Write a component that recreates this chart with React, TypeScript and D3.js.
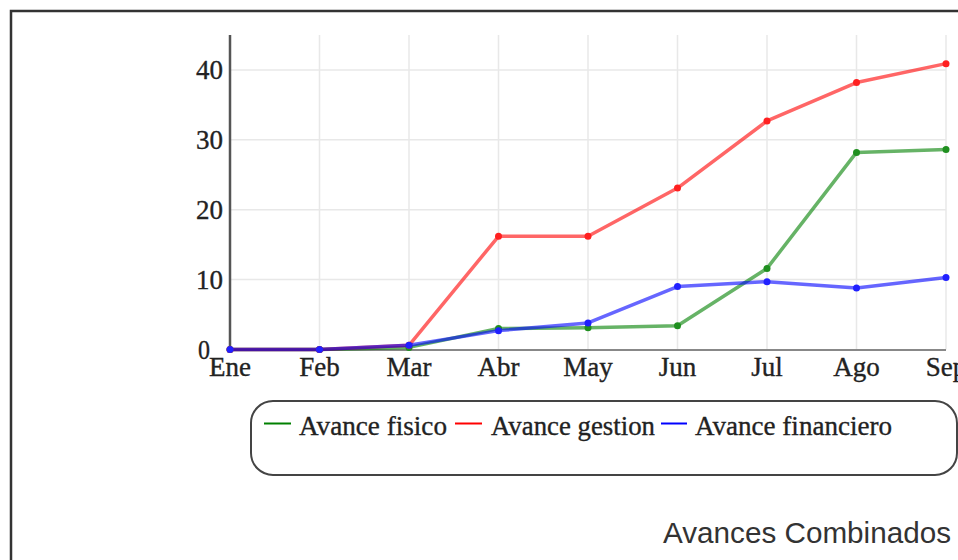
import React from "react";
import * as d3 from "d3";

const months = ["Ene", "Feb", "Mar", "Abr", "May", "Jun", "Jul", "Ago", "Sep"];
const avanceFisico = [0, 0, 0.3, 3.0, 3.1, 3.4, 11.6, 28.2, 28.6];
const avanceGestion = [0, 0, 0.6, 16.2, 16.2, 23.1, 32.7, 38.2, 40.9];
const avanceFinanciero = [0, 0, 0.6, 2.7, 3.8, 9.0, 9.7, 8.8, 10.3];
const yTicks = [0, 10, 20, 30, 40];
const seriesNames = ["Avance fisico", "Avance gestion", "Avance financiero"];
const chartTitle = "Avances Combinados";

const W = 958;
const H = 560;
const left = 230;
const right = 946;
const top = 35;
const bottom = 349.5;

const serif = "'Liberation Serif', 'Times New Roman', serif";
const sans = "'Liberation Sans', Arial, sans-serif";

export default function App() {
  const x = d3.scalePoint<string>().domain(months).range([left, right]);
  const y = d3.scaleLinear().domain([0, 45]).range([bottom, top]);

  const series = [
    { name: seriesNames[0], values: avanceFisico, line: "rgba(0,128,0,0.6)", dot: "#1f8f1f", legend: "#008000" },
    { name: seriesNames[1], values: avanceGestion, line: "rgba(255,0,0,0.6)", dot: "#ff2020", legend: "#ff0000" },
    { name: seriesNames[2], values: avanceFinanciero, line: "rgba(0,0,255,0.6)", dot: "#2020ff", legend: "#0000ff" },
  ];

  const lineGen = d3
    .line<number>()
    .x((_, i) => x(months[i]) as number)
    .y((d) => y(d));

  const legendItems = [
    { lx1: 264, lx2: 291, tx: 299, tw: 148 },
    { lx1: 455, lx2: 482, tx: 491, tw: 164 },
    { lx1: 661, lx2: 687, tx: 695, tw: 197 },
  ];

  const textStyle = { stroke: "#222", strokeWidth: 0.35 } as React.CSSProperties;

  return (
    <svg width={W} height={H} style={{ position: "absolute", left: 0, top: 0, display: "block" }}>
      <rect x={0} y={0} width={W} height={H} fill="#fff" />
      <rect x={11} y={11} width={W + 20} height={H + 20} fill="#fff" stroke="#333" strokeWidth={2.5} />

      {/* grid */}
      {months.map((m) => (
        <line key={"gx" + m} x1={x(m)} x2={x(m)} y1={top} y2={bottom} stroke="#e8e8e8" strokeWidth={1.5} />
      ))}
      {yTicks.filter((t) => t > 0).map((t) => (
        <line key={"gy" + t} x1={left} x2={right} y1={y(t)} y2={y(t)} stroke="#e8e8e8" strokeWidth={1.5} />
      ))}

      {/* axes */}
      <line x1={left} x2={right} y1={bottom + 0.5} y2={bottom + 0.5} stroke="#888" strokeWidth={2} />
      <line x1={left} x2={left} y1={top} y2={bottom + 1} stroke="#555" strokeWidth={2.5} />

      {/* y tick labels */}
      {yTicks.map((t) => (
        <text
          key={"yt" + t}
          x={t === 0 ? 198 : 196}
          y={y(t) + 9.5}
          fontFamily={serif}
          fontSize={27}
          fill="#222"
          style={textStyle}
          textLength={t === 0 ? 12 : 27}
          lengthAdjust="spacingAndGlyphs"
        >
          {t}
        </text>
      ))}

      {/* x tick labels */}
      {months.map((m) => (
        <text key={"xt" + m} x={x(m)} y={bottom + 26.5} textAnchor="middle" fontFamily={serif} fontSize={27} fill="#222" style={textStyle}>
          {m}
        </text>
      ))}

      {/* lines */}
      {series.map((s) => (
        <g key={s.name}>
          <path d={lineGen(s.values) || ""} fill="none" stroke={s.line} strokeWidth={3.5} strokeLinejoin="round" />
          {s.values.map((v, i) => (
            <circle key={i} cx={x(months[i])} cy={y(v)} r={3.5} fill={s.dot} />
          ))}
        </g>
      ))}

      {/* legend */}
      <rect x={251} y={401} width={706} height={74} rx={22} ry={22} fill="none" stroke="#444" strokeWidth={2} />
      {series.map((s, i) => (
        <g key={"lg" + s.name}>
          <line x1={legendItems[i].lx1} x2={legendItems[i].lx2} y1={423.5} y2={423.5} stroke={s.legend} strokeWidth={2} />
          <text
            x={legendItems[i].tx}
            y={435}
            fontFamily={serif}
            fontSize={28}
            fill="#222"
            style={textStyle}
            textLength={legendItems[i].tw}
            lengthAdjust="spacingAndGlyphs"
          >
            {s.name}
          </text>
        </g>
      ))}

      {/* title */}
      <text x={663} y={543} fontFamily={sans} fontSize={29} fill="#333" textLength={288} lengthAdjust="spacingAndGlyphs">
        {chartTitle}
      </text>
    </svg>
  );
}
